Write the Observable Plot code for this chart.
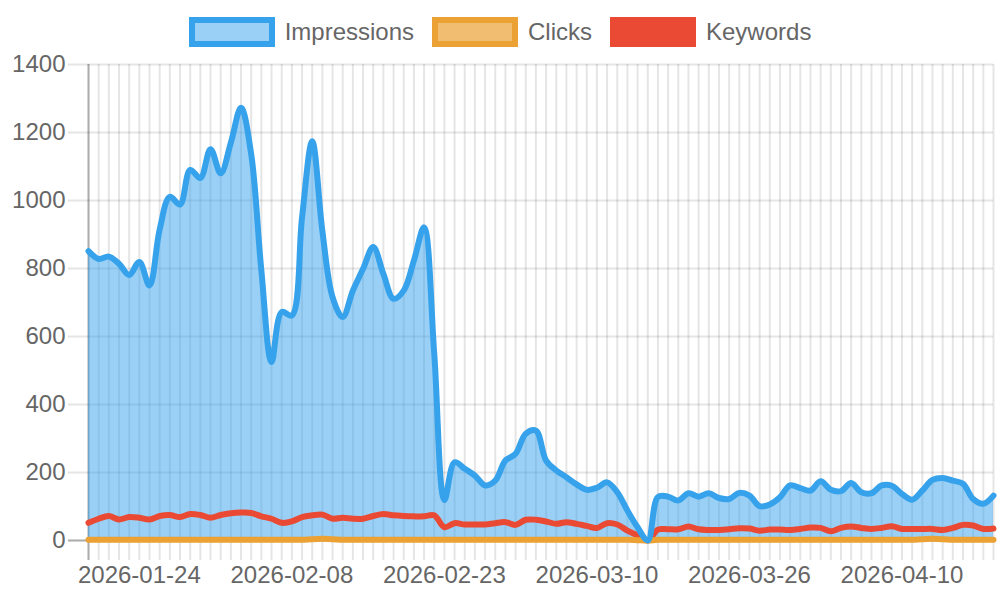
<!DOCTYPE html>
<html>
<head>
<meta charset="utf-8">
<script src="https://cdn.jsdelivr.net/npm/d3@7"></script>
<script src="https://cdn.jsdelivr.net/npm/@observablehq/plot@0.6"></script>
<style>
  html, body { margin: 0; padding: 0; background: #fff; }
  body { width: 1000px; height: 600px; overflow: hidden; font-family: "Liberation Sans", Arial, Helvetica, sans-serif; }
  #legend { height: 50px; box-sizing: border-box; padding-top: 17px; display: flex; justify-content: center; align-items: flex-start; gap: 18px; }
  .item { display: flex; align-items: center; height: 30px; }
  .box { width: 86px; height: 30px; box-sizing: border-box; border: 6px solid; }
  .lab { margin-left: 10px; font-size: 24px; line-height: 30px; color: #666; white-space: nowrap; }
  #chart svg { display: block; }
</style>
</head>
<body>
<div id="legend"></div>
<div id="chart"></div>
<script>
// ---- data ----
const dates = [
  "2026-01-19","2026-01-20","2026-01-21","2026-01-22","2026-01-23","2026-01-24","2026-01-25","2026-01-26","2026-01-27","2026-01-28",
  "2026-01-29","2026-01-30","2026-01-31","2026-02-01","2026-02-02","2026-02-03","2026-02-04","2026-02-05","2026-02-06","2026-02-07",
  "2026-02-08","2026-02-09","2026-02-10","2026-02-11","2026-02-12","2026-02-13","2026-02-14","2026-02-15","2026-02-16","2026-02-17",
  "2026-02-18","2026-02-19","2026-02-20","2026-02-21","2026-02-22","2026-02-23","2026-02-24","2026-02-25","2026-02-26","2026-02-27",
  "2026-02-28","2026-03-01","2026-03-02","2026-03-03","2026-03-04","2026-03-05","2026-03-06","2026-03-07","2026-03-08","2026-03-09",
  "2026-03-10","2026-03-11","2026-03-12","2026-03-13","2026-03-14","2026-03-16","2026-03-17","2026-03-18","2026-03-19","2026-03-20",
  "2026-03-21","2026-03-22","2026-03-23","2026-03-24","2026-03-25","2026-03-26","2026-03-27","2026-03-28","2026-03-29","2026-03-30",
  "2026-03-31","2026-04-01","2026-04-02","2026-04-03","2026-04-04","2026-04-05","2026-04-06","2026-04-07","2026-04-08","2026-04-09",
  "2026-04-10","2026-04-11","2026-04-12","2026-04-13","2026-04-14","2026-04-15","2026-04-16","2026-04-17","2026-04-18","2026-04-19"
];
const impressions = [
  851, 828, 835, 814, 781, 819, 750, 915, 1011, 988,
  1090, 1066, 1151, 1080, 1170, 1273, 1136, 794, 525, 672,
  662, 950, 1174, 910, 716, 657, 735, 799, 863, 784,
  711, 735, 823, 921, 550, 119, 230, 211, 191, 162,
  176, 235, 255, 314, 323, 235, 206, 186, 165, 149,
  155, 171, 142, 88, 39, 0, 128, 129, 118, 139,
  129, 139, 125, 122, 140, 132, 101, 106, 127, 162,
  154, 147, 174, 149, 145, 169, 142, 139, 162, 161,
  137, 120, 147, 178, 184, 176, 167, 122, 108, 132
];
const clicks = [
  2, 2, 2, 2, 2, 2, 2, 2, 2, 2,
  2, 2, 2, 2, 2, 2, 2, 2, 2, 2,
  2, 2, 4, 5, 4, 2, 2, 2, 2, 2,
  2, 2, 2, 2, 2, 2, 2, 2, 2, 2,
  2, 2, 2, 2, 2, 2, 2, 2, 2, 2,
  2, 2, 2, 2, 1, 0, 2, 2, 2, 2,
  2, 2, 2, 2, 2, 2, 2, 2, 2, 2,
  2, 2, 2, 2, 2, 2, 2, 2, 2, 2,
  2, 2, 4, 5, 4, 2, 2, 2, 2, 2
];
const keywords = [
  52, 64, 72, 62, 69, 67, 62, 72, 75, 69,
  78, 75, 67, 75, 80, 82, 81, 71, 64, 52,
  56, 69, 74, 76, 64, 67, 64, 64, 72, 78,
  74, 72, 71, 71, 74, 39, 51, 47, 47, 47,
  51, 54, 46, 61, 61, 56, 49, 54, 49, 43,
  37, 51, 47, 29, 15, 0, 32, 33, 33, 41,
  33, 31, 31, 33, 36, 35, 29, 32, 32, 31,
  34, 38, 37, 27, 37, 41, 37, 34, 37, 42,
  34, 34, 34, 34, 31, 37, 46, 44, 34, 35
];
const seriesNames = ["Impressions", "Clicks", "Keywords"];
const tickLabels = ["2026-01-24","2026-02-08","2026-02-23","2026-03-10","2026-03-26","2026-04-10"];
const yTicks = [0, 200, 400, 600, 800, 1000, 1200, 1400];

// ---- styles ----
const BLUE = "#36A2EB", BLUE_FILL = "rgba(54,162,235,0.5)";
const ORANGE = "#EBA134", ORANGE_FILL = "rgba(235,161,52,0.7)";
const RED = "#EA4A34";
const legendStyles = [
  {border: BLUE, fill: BLUE_FILL},
  {border: ORANGE, fill: ORANGE_FILL},
  {border: RED, fill: RED}
];

// legend
const legend = document.getElementById("legend");
seriesNames.forEach((name, i) => {
  const item = document.createElement("div");
  item.className = "item";
  const box = document.createElement("span");
  box.className = "box";
  box.style.borderColor = legendStyles[i].border;
  box.style.background = legendStyles[i].fill;
  const lab = document.createElement("span");
  lab.className = "lab";
  lab.textContent = name;
  item.appendChild(box);
  item.appendChild(lab);
  legend.appendChild(item);
});

const data = dates.map((d, i) => ({date: d, impressions: impressions[i], clicks: clicks[i], keywords: keywords[i]}));
const curve = "catmull-rom";
const gridStyle = {stroke: "#000", strokeOpacity: 0.1, strokeWidth: 2};
const zeroStyle = {stroke: "#000", strokeOpacity: 0.25, strokeWidth: 2};

const chart = Plot.plot({
  width: 1000,
  height: 550,
  marginTop: 14,
  marginLeft: 88,
  marginRight: 7,
  marginBottom: 60,
  style: {fontSize: "24px", fontFamily: "'Liberation Sans', Arial, Helvetica, sans-serif", color: "#666", background: "#fff"},
  x: {type: "point", domain: dates, padding: 0, round: false, label: null},
  y: {domain: [0, 1400], label: null},
  marks: [
    Plot.gridY(yTicks, gridStyle),
    Plot.gridX(dates, gridStyle),
    Plot.axisY(yTicks, {...gridStyle, tickSize: 20, tickPadding: 3, fill: "#666", label: null, tickFormat: d => String(d)}),
    Plot.axisX(dates, {...gridStyle, tickSize: 20, tickPadding: 5, fill: "#666", label: null,
      tickFormat: d => tickLabels.includes(d) ? d : ""}),
    Plot.ruleX([dates[0]], zeroStyle),
    Plot.ruleY([0], zeroStyle),
    Plot.axisX([dates[0]], {...zeroStyle, tickSize: 20, label: null, tickFormat: () => ""}),
    Plot.axisY([0], {...zeroStyle, tickSize: 20, label: null, tickFormat: () => ""}),
    Plot.areaY(data, {x: "date", y: "impressions", fill: BLUE_FILL, curve}),
    Plot.areaY(data, {x: "date", y: "clicks", fill: ORANGE_FILL, curve}),
    Plot.lineY(data, {x: "date", y: "keywords", stroke: RED, strokeWidth: 6, curve}),
    Plot.lineY(data, {x: "date", y: "clicks", stroke: ORANGE, strokeWidth: 6, curve}),
    Plot.lineY(data, {x: "date", y: "impressions", stroke: BLUE, strokeWidth: 6, curve})
  ]
});
document.getElementById("chart").appendChild(chart);
</script>
</body>
</html>
